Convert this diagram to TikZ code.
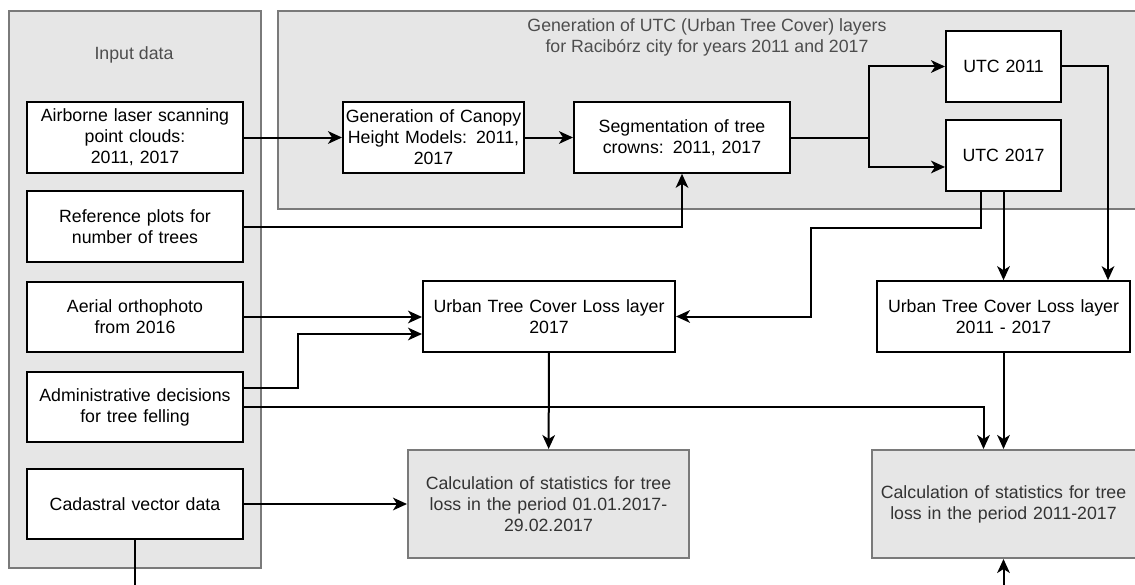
\documentclass[tikz,border=0pt]{standalone}
\usepackage{fontspec}
\setmainfont{Liberation Sans}
\usetikzlibrary{arrows.meta,calc}

\definecolor{groupfill}{HTML}{E6E6E6}
\definecolor{groupline}{HTML}{7A7A7A}
\definecolor{grouptext}{HTML}{4D4D4D}
\definecolor{statstext}{HTML}{333333}

\tikzset{%
          every box/.style={
            draw,
            line width=1.5pt,
            fill=white,
            align=center,
            inner sep=0pt,
            minimum height=53pt,
            font=\fontsize{13.3}{15.75}\selectfont
          },
          stats box/.style={
            every box,
            draw=groupline,
            fill=groupfill,
            text=statstext,
            minimum height=81pt
          },
          group/.style={
            draw=groupline,
            fill=groupfill,
            line width=1.5pt
          },
          group label/.style={
            text=grouptext,
            align=center,
            font=\fontsize{13.3}{15.75}\selectfont
          },
          link/.style={line width=1.5pt},
          flow/.style={line width=1.5pt, -{Stealth[length=10.5pt,width=9.5pt,inset=3pt]}},
        }

\begin{document}
\begin{tikzpicture}[x=0.75pt, y=-0.75pt]
        \useasboundingbox (0,0) rectangle (1135,585);
        \clip (0,0) rectangle (1135,585);

        \path [group] (9,11) rectangle (261,568);
        \path [group] (278,11) rectangle (1150,209);
        \node [group label] (input-label) at (134,55) {Input data};
        \node [group label] (utc-label) at (707,37.5) {Generation of UTC (Urban Tree Cover) layers\\for Racib\'orz city for years 2011 and 2017};

        \node [every box, text width=162pt] (input-als) at (135,137.5) {Airborne laser scanning\\point clouds:\\2011, 2017};
        \node [every box, text width=162pt] (input-ref) at (135,226.5) {Reference plots for\\number of trees};
        \node [every box, text width=162pt] (input-aer) at (135,317) {Aerial orthophoto\\from 2016};
        \node [every box, text width=162pt] (input-adm) at (135,407) {Administrative decisions\\for tree felling};
        \node [every box, text width=162pt] (input-cad) at (135,504) {Cadastral vector data};

        \node [every box, text width=135.75pt] (chm) at (433.5,137.5) {Generation of Canopy\\Height Models: 2011,\\2017};
        \node [every box, text width=162pt] (seg) at (682,137.5) {Segmentation of tree\\crowns: 2011, 2017};
        \node [every box, text width=86.25pt] (utc-2011) at (1003.5,66.5) {UTC 2011};
        \node [every box, text width=86.25pt] (utc-2017) at (1003.5,155.5) {UTC 2017};

        \node [every box, text width=189pt] (loss-2017) at (549,316.5) {Urban Tree Cover Loss layer\\2017};
        \node [every box, text width=189.75pt] (loss-all) at (1003.5,316.5) {Urban Tree Cover Loss layer\\2011 - 2017};

        \node [stats box, text width=210.75pt] (stats-2017) at (548.5,504) {Calculation of statistics for tree\\loss in the period 01.01.2017-\\29.02.2017};
        \node [stats box, text width=198pt] (stats-all) at (1003.5,504) {Calculation of statistics for tree\\loss in the period 2011-2017};

        \coordinate (cut-1) at (135,600);
        \coordinate (cut-2) at (1003.5,600);

        \path [draw, flow] (input-als) -- (chm);
        \path [draw, flow] (chm) -- (seg);
        \path [draw, link] (seg.east) -- ++(78,0) coordinate (split);
        \path [draw, flow] (split) |- (utc-2011);
        \path [draw, flow] (split) |- ([yshift=-8.6pt]utc-2017.west);
        \path [draw, flow] (input-ref) -| (seg);

        \path [draw, flow] (utc-2011) -| ($(loss-all.north east)+(-23,0)$);
        \path [draw, flow] ($(utc-2017.south)+(-22.5,0)$) -- ++(0,36) -| ($(loss-2017.east)+(135,0)$) -- (loss-2017);
        \path [draw, flow] (utc-2017) -- (loss-all);

        \path [draw, flow] (input-aer) -- (input-aer -| loss-2017.west);
        \path [draw, flow] ($(input-adm.east)+(0,-19)$) -- ++(54,0) |- ($(loss-2017.west)+(0,17.5)$);
        \path [draw, flow] (input-adm) -| ($(stats-all.north)+(-20,0)$);

        \path [draw, flow] (loss-2017) -- (stats-2017);
        \path [draw, flow] (input-cad) -- (stats-2017);
        \path [draw, flow] (loss-all) -- (stats-all);

        \path [draw, link] (input-cad) -- (cut-1);
        \path [draw, flow] (cut-2) -- (stats-all);
        \end{tikzpicture}
\end{document}
